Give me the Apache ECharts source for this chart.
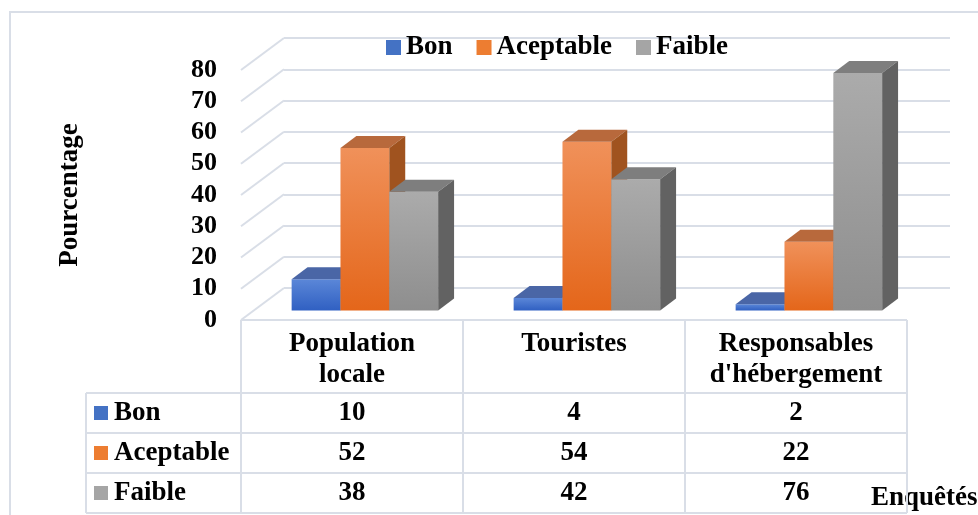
<!DOCTYPE html>
<html>
<head>
<meta charset="utf-8">
<script src="https://cdn.jsdelivr.net/npm/echarts@6/dist/echarts.min.js"></script>
<style>
    html, body { margin: 0; padding: 0; background: #fff; }
    #chart { width: 978px; height: 515px; }
</style>
</head>
<body>
<div id="chart"></div>
<script>
// data
const categories = ['Population locale', 'Touristes', "Responsables d'hébergement"];
const seriesNames = ['Bon', 'Aceptable', 'Faible'];
const bonValues = [10, 4, 2];
const aceptableValues = [52, 54, 22];
const faibleValues = [38, 42, 76];
const yTicks = [0, 10, 20, 30, 40, 50, 60, 70, 80];

const FONT = 'Liberation Serif';
const LINE = '#d9dee7';
const LEGEND_COLORS = ['#4472c4', '#ed7d31', '#a5a5a5'];
const FACES = [
    { front: ['#5b87d8', '#3060c2'], top: '#4a66a6', side: '#3d5b9c' },
    { front: ['#f0915a', '#e4661a'], top: '#b8693c', side: '#a0531f' },
    { front: ['#ababab', '#8e8e8e'], top: '#7e7e7e', side: '#626262' }
];

// 3D projection: front plane -> back wall offset
const DEPTH_X = 43;
const DEPTH_Y = 32;
const GRID = { left: 241, right: 71, top: 70, bottom: 195 };
const CHART_W = 978;
const CHART_H = 515;
const TEXT_SIZE = 27;

function barRenderer(idx) {
    const faces = FACES[idx];
    return function (params, api) {
        const cat = api.value(0);
        const top = api.coord([cat, api.value(1)]);
        const base = api.coord([cat, 0]);
        const band = api.size([1, 0])[0];
        const bw = band * 0.22;
        const fx = DEPTH_X * 0.3, fy = -DEPTH_Y * 0.3;
        const dx = DEPTH_X * 0.37, dy = -DEPTH_Y * 0.37;
        const x0 = top[0] - 1.5 * bw + idx * bw + fx;
        const x1 = x0 + bw;
        const yt = top[1] + fy;
        const yb = base[1] + fy;
        return {
            type: 'group',
            children: [
                {
                    type: 'rect',
                    shape: { x: x0, y: yt, width: bw, height: yb - yt },
                    style: {
                        fill: new echarts.graphic.LinearGradient(0, 0, 0, 1, [
                            { offset: 0, color: faces.front[0] },
                            { offset: 1, color: faces.front[1] }
                        ])
                    }
                },
                {
                    type: 'polygon',
                    shape: { points: [[x0, yt], [x1, yt], [x1 + dx, yt + dy], [x0 + dx, yt + dy]] },
                    style: { fill: faces.top }
                },
                {
                    type: 'polygon',
                    shape: { points: [[x1, yt], [x1 + dx, yt + dy], [x1 + dx, yb + dy], [x1, yb]] },
                    style: { fill: faces.side }
                }
            ]
        };
    };
}

function buildTable() {
    const left = GRID.left;
    const right = CHART_W - GRID.right;
    const band = (right - left) / categories.length;
    const top = CHART_H - GRID.bottom;
    const headerBottom = 393;
    const rowH = 40;
    const labelLeft = 86;
    const rows = [bonValues, aceptableValues, faibleValues];
    const bottom = headerBottom + rowH * rows.length;
    const font = 'bold ' + TEXT_SIZE + 'px "' + FONT + '"';
    const els = [];
    const line = (x1, y1, x2, y2) => els.push({
        type: 'line', silent: true,
        shape: { x1, y1, x2, y2 },
        style: { stroke: LINE, lineWidth: 2 }
    });
    line(left, top, right, top);
    for (let r = 0; r <= rows.length; r++) {
        line(labelLeft, headerBottom + r * rowH, right, headerBottom + r * rowH);
    }
    line(labelLeft, headerBottom, labelLeft, bottom);
    for (let c = 0; c <= categories.length; c++) {
        line(left + c * band, top, left + c * band, bottom);
    }
    rows.forEach((vals, r) => {
        const cy = headerBottom + r * rowH + rowH / 2;
        els.push({
            type: 'rect', silent: true,
            shape: { x: 94, y: cy - 7, width: 14, height: 14 },
            style: { fill: LEGEND_COLORS[r] }
        });
        els.push({
            type: 'text', silent: true, x: 114, y: cy,
            style: { text: seriesNames[r], font: font, fill: '#000', verticalAlign: 'middle' }
        });
        vals.forEach((v, c) => {
            els.push({
                type: 'text', silent: true, x: left + c * band + band / 2, y: cy,
                style: { text: String(v), font: font, fill: '#000', align: 'center', verticalAlign: 'middle' }
            });
        });
    });
    return els;
}

const chart = echarts.init(document.getElementById('chart'));

const option = {
    backgroundColor: '#fff',
    animation: false,
    legend: {
        data: seriesNames,
        left: 386,
        top: 34,
        padding: 0,
        icon: 'rect',
        itemWidth: 15,
        itemHeight: 15,
        itemGap: 24,
        textStyle: { fontFamily: FONT, fontWeight: 'bold', fontSize: TEXT_SIZE, color: '#000' }
    },
    grid: [
        { left: GRID.left, right: GRID.right, top: GRID.top, bottom: GRID.bottom },
        {
            left: GRID.left + DEPTH_X, right: GRID.right - DEPTH_X,
            top: GRID.top - DEPTH_Y, bottom: GRID.bottom + DEPTH_Y
        }
    ],
    xAxis: [
        {
            type: 'category',
            gridIndex: 0,
            data: categories,
            axisLine: { show: false },
            axisTick: { show: false },
            axisLabel: {
                interval: 0,
                margin: 9,
                color: '#000',
                fontFamily: FONT,
                fontWeight: 'bold',
                fontSize: TEXT_SIZE,
                lineHeight: 31,
                verticalAlign: 'top',
                formatter: (v) => v.replace(' ', '\n')
            }
        },
        { type: 'value', gridIndex: 1, show: false }
    ],
    yAxis: [
        {
            type: 'value',
            gridIndex: 0,
            min: 0,
            max: 80,
            interval: 10,
            axisLine: { show: false },
            axisTick: { show: false },
            splitLine: { show: false },
            axisLabel: {
                margin: 24,
                color: '#000',
                fontFamily: FONT,
                fontWeight: 'bold',
                fontSize: 26
            },
            name: 'Pourcentage',
            nameLocation: 'middle',
            nameRotate: 90,
            nameGap: 157,
            nameTextStyle: { fontFamily: FONT, fontWeight: 'bold', fontSize: TEXT_SIZE, color: '#000' }
        },
        {
            type: 'value',
            gridIndex: 1,
            min: 0,
            max: 80,
            interval: 10,
            axisLine: { show: false },
            axisTick: { show: false },
            axisLabel: { show: false },
            splitLine: { show: true, lineStyle: { color: LINE, width: 2 } }
        }
    ],
    series: [
        {
            type: 'custom',
            silent: true,
            xAxisIndex: 0,
            yAxisIndex: 0,
            z: 1,
            data: yTicks.map((v) => [0, v]),
            renderItem: (params, api) => {
                const p = api.coord([0, api.value(1)]);
                const x = params.coordSys.x;
                return {
                    type: 'line',
                    shape: { x1: x, y1: p[1], x2: x + DEPTH_X, y2: p[1] - DEPTH_Y },
                    style: { stroke: LINE, lineWidth: 2 }
                };
            }
        }
    ].concat([bonValues, aceptableValues, faibleValues].map((vals, i) => ({
        type: 'custom',
        name: seriesNames[i],
        xAxisIndex: 0,
        yAxisIndex: 0,
        itemStyle: { color: LEGEND_COLORS[i] },
        data: vals.map((v, c) => [c, v]),
        renderItem: barRenderer(i)
    }))),
    graphic: [
        {
            type: 'rect', silent: true, z: -10,
            shape: { x: 10, y: 12, width: 1000, height: 600 },
            style: { fill: 'none', stroke: LINE, lineWidth: 2 }
        },
        {
            type: 'text', silent: true, x: 871, y: 498,
            style: { text: 'Enquêtés', font: 'bold ' + TEXT_SIZE + 'px "' + FONT + '"', fill: '#000', verticalAlign: 'middle' }
        }
    ].concat(buildTable())
};

chart.setOption(option);

window.addEventListener('resize', () => {
    chart.resize();
});
</script>
</body>
</html>
